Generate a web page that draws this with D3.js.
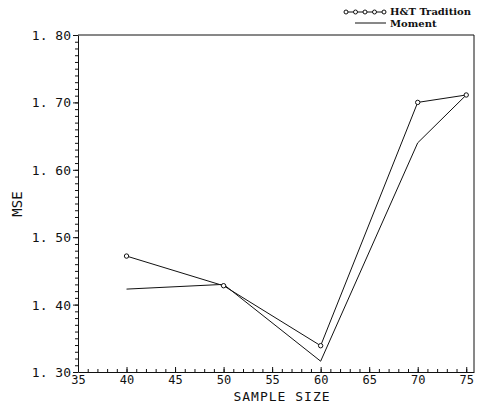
<!DOCTYPE html>
<html><head><meta charset="utf-8">
<script src="https://cdn.jsdelivr.net/npm/d3@7"></script>
<style>body{margin:0;background:#fff}svg{display:block}</style>
</head><body>
<script>
const sampleSizes = [40, 50, 60, 70, 75];
const htTradition = [1.472, 1.428, 1.339, 1.700, 1.711];
const moment = [1.423, 1.430, 1.316, 1.640, 1.711];
const xTicks = [35, 40, 45, 50, 55, 60, 65, 70, 75];
const yTicks = [1.30, 1.40, 1.50, 1.60, 1.70, 1.80];

const W = 483, H = 406;
const svg = d3.select("body").append("svg").attr("width", W).attr("height", H);
const L = 78, R = 474, T = 35, B = 372;
const x = d3.scaleLinear().domain([35, 75.8]).range([L, R]);
const y = d3.scaleLinear().domain([1.30, 1.80]).range([B, T]);
const ink = "#111";
const mono = "'DejaVu Sans Mono', monospace";

// frame
svg.append("path").attr("d", `M${L},${T}H${R}V${B}`).attr("fill","none").attr("stroke",ink).attr("stroke-width",1);

// x axis
const xa = svg.append("g").attr("transform", `translate(0,${B})`)
  .call(d3.axisBottom(x).tickValues(xTicks).tickFormat(d3.format("d")).tickSizeInner(-5).tickSizeOuter(0));
xa.select(".domain").attr("stroke", ink);
xa.selectAll(".tick line").attr("stroke", ink);
xa.selectAll("text").attr("font-family", mono).attr("font-size", 12).attr("fill", ink).attr("y", 3).attr("dy","0.71em");
svg.append("g").attr("transform", `translate(0,${B})`)
  .call(d3.axisBottom(x).tickValues(d3.range(35, 76, 1)).tickFormat("").tickSizeInner(-3).tickSizeOuter(0))
  .call(g => { g.select(".domain").remove(); g.selectAll("line").attr("stroke", ink); });

// y axis
const ya = svg.append("g").attr("transform", `translate(${L},0)`)
  .call(d3.axisLeft(y).tickValues(yTicks).tickFormat(d => d3.format(".2f")(d).replace(".", ". ")).tickSizeInner(5).tickSizeOuter(0));
ya.select(".domain").attr("stroke", ink);
ya.selectAll(".tick line").attr("stroke", ink);
ya.selectAll("text").attr("font-family", mono).attr("font-size", 13).attr("fill", ink).attr("x", -7).attr("dy","0.35em");
svg.append("g").attr("transform", `translate(${L},0)`)
  .call(d3.axisLeft(y).tickValues(d3.range(130, 181, 1).map(v => v/100)).tickFormat("").tickSizeInner(3).tickSizeOuter(0))
  .call(g => { g.select(".domain").remove(); g.selectAll("line").attr("stroke", ink); });

// axis titles
svg.append("text").attr("x", (L+R)/2 + 6).attr("y", 401).attr("text-anchor","middle")
  .attr("font-family", mono).attr("font-size", 13).attr("letter-spacing", 1).attr("fill", ink).text("SAMPLE SIZE");
svg.append("text").attr("transform", "translate(22,204) rotate(-90)").attr("text-anchor","middle")
  .attr("font-family", mono).attr("font-size", 14).attr("fill", ink).text("MSE");

// lines
const line = d3.line().x(d => x(d[0])).y(d => y(d[1]));
const htData = sampleSizes.map((s, i) => [s, htTradition[i]]);
const moData = sampleSizes.map((s, i) => [s, moment[i]]);
svg.append("path").datum(moData).attr("d", line).attr("fill","none").attr("stroke", ink).attr("stroke-width", 1);
svg.append("path").datum(htData).attr("d", line).attr("fill","none").attr("stroke", ink).attr("stroke-width", 1);
svg.selectAll("circle.ht").data(htData).join("circle").attr("class","ht")
  .attr("cx", d => x(d[0])).attr("cy", d => y(d[1])).attr("r", 2.2)
  .attr("fill","#fff").attr("stroke", ink).attr("stroke-width", 1);

// legend
const lg = svg.append("g");
lg.append("line").attr("x1", 344).attr("x2", 386).attr("y1", 12).attr("y2", 12).attr("stroke", ink);
lg.selectAll("circle").data(d3.range(5)).join("circle")
  .attr("cx", i => 346 + i*9.5).attr("cy", 12).attr("r", 2).attr("fill","#fff").attr("stroke", ink);
lg.append("text").attr("x", 390).attr("y", 15).attr("font-family","'DejaVu Serif', serif").attr("font-weight","bold")
  .attr("font-size", 10).attr("fill", ink).text("H&T Tradition");
lg.append("line").attr("x1", 355).attr("x2", 386).attr("y1", 23).attr("y2", 23).attr("stroke", ink);
lg.append("text").attr("x", 390).attr("y", 27).attr("font-family","'DejaVu Serif', serif").attr("font-weight","bold")
  .attr("font-size", 10).attr("fill", ink).text("Moment");
</script>
</body></html>
